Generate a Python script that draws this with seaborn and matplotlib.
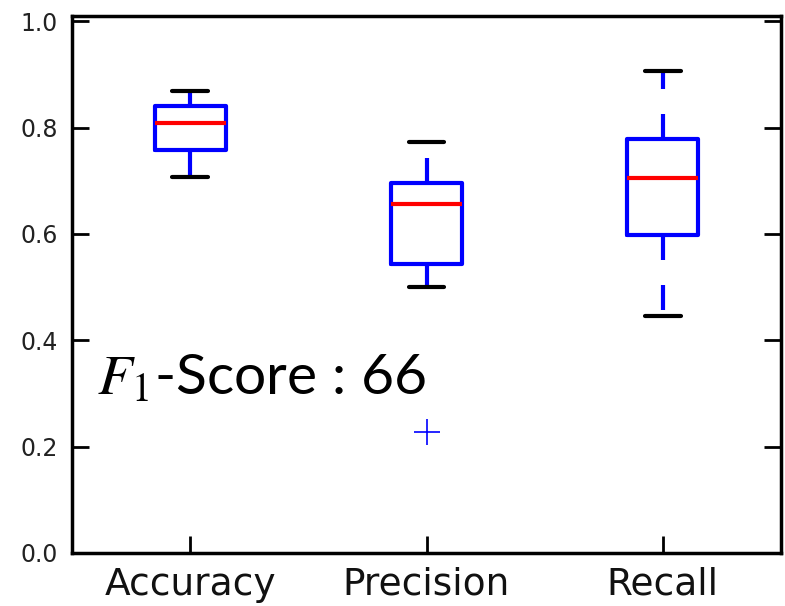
import numpy as np
import pandas as pd
import matplotlib
matplotlib.use("Agg")
import matplotlib.pyplot as plt
import seaborn as sns

categories = ["Accuracy", "Precision", "Recall"]
accuracy = [0.707, 0.758, 0.808, 0.840, 0.868]
precision = [0.228, 0.501, 0.543, 0.543, 0.656, 0.695, 0.695, 0.773, 0.773]
recall = [0.445, 0.598, 0.705, 0.778, 0.907]
ytick_values = [0.0, 0.2, 0.4, 0.6, 0.8, 1.0]
annotation = "$F_1$-Score : 66"

df = pd.DataFrame({
    "metric": (["Accuracy"] * len(accuracy) + ["Precision"] * len(precision)
               + ["Recall"] * len(recall)),
    "value": accuracy + precision + recall,
})

sns.set_style("white")
plt.rcParams["font.family"] = ["DejaVu Sans"]
plt.rcParams["mathtext.fontset"] = "stix"
plt.rcParams["text.color"] = "black"

fig = plt.figure(figsize=(7.85, 6.06), dpi=100)
ax = fig.add_axes([72 / 785, 1 - 553 / 606, (781 - 72) / 785, (553 - 16) / 606])

sns.boxplot(
    data=df, x="metric", y="value", order=categories, ax=ax,
    fill=False, width=0.3, whis=1.5, linecolor="#0000ff", linewidth=3,
    boxprops=dict(color="#0000ff", linewidth=3),
    medianprops=dict(color="#ff0000", linewidth=3),
    whiskerprops=dict(color="#0000ff", linewidth=3, linestyle=(0, (6, 6))),
    capprops=dict(color="black", linewidth=3),
    flierprops=dict(marker="+", markeredgecolor="#0000ff", markersize=19,
                    markeredgewidth=1.2, linestyle="none"),
)

ax.set_xlim(-0.5, 2.5)
ax.set_ylim(0, 1.01)
ax.set_yticks(ytick_values)
ax.set_yticklabels([f"{v:.1f}" for v in ytick_values])
ax.set_xlabel("")
ax.set_ylabel("")
for s in ax.spines.values():
    s.set_visible(True)
    s.set_linewidth(2.5)
    s.set_color("black")
ax.tick_params(axis="both", direction="in", length=12, width=2, color="black",
               top=False, right=True, bottom=True, left=True)
ax.tick_params(axis="y", labelsize=17, pad=10, labelcolor="#222222")
ax.tick_params(axis="x", labelsize=27, pad=10, labelcolor="#111111")
ax.set_facecolor("white")

fig.text(97 / 785, 1 - 395 / 606, annotation, fontsize=41, color="black",
         family=["Lato", "DejaVu Sans"], va="baseline", ha="left")

fig.savefig("out.png", dpi=100, facecolor="white")
